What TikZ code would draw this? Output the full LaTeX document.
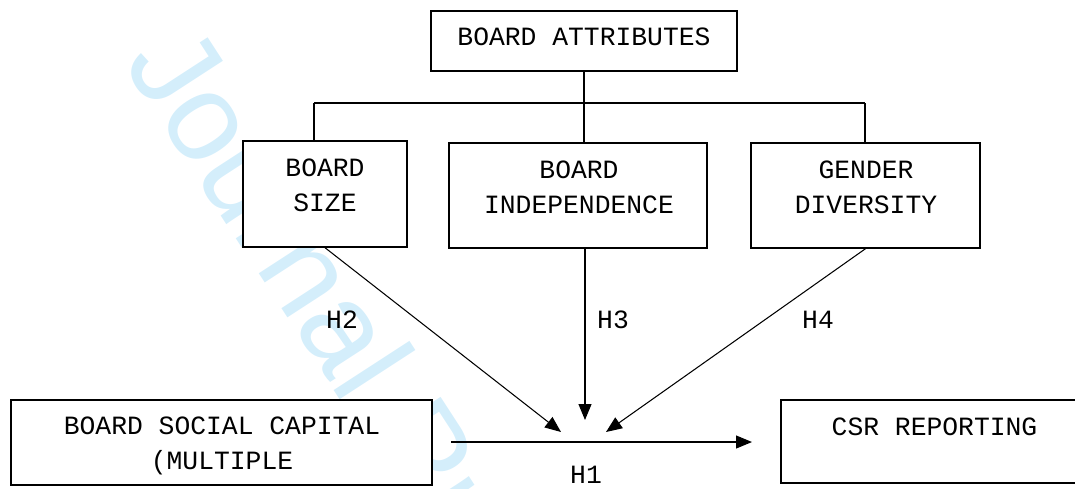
\documentclass[tikz,border=0pt]{standalone}
\usepackage{fontspec}
\setmainfont{Liberation Mono}
\newfontfamily\wmfont{Liberation Sans}
\usetikzlibrary{arrows.meta}
\definecolor{wmcyan}{RGB}{212,238,251}

\begin{document}
\begin{tikzpicture}[x=0.02cm,y=-0.02cm,
  every node/.style={font=\fontsize{15}{19.9}\selectfont},
  box/.style={draw,line width=0.8pt,fill=white,inner sep=0pt},
  boxtext/.style={anchor=north,align=center,inner sep=0pt},
  hlabel/.style={inner sep=0pt},
  link/.style={line width=0.6pt},
  hyp/.style={line width=0.6pt,-{Triangle[length=0.32cm,width=0.26cm]}}]
\useasboundingbox (0,0) rectangle (1075,488);
% watermark
\path (122,63) node (wmark) [anchor=base west,rotate=-57,inner sep=0pt,text=wmcyan,
  font=\wmfont\fontsize{71}{71}\selectfont] {Journal Pre-proof};

% boxes
\path (584,41) node (attr) [box,minimum width=6.12cm,minimum height=1.2cm] {};
\path (325,194) node (bsize) [box,minimum width=3.28cm,minimum height=2.12cm] {};
\path (578,195.5) node (indep) [box,minimum width=5.16cm,minimum height=2.1cm] {};
\path (865.5,195.5) node (gender) [box,minimum width=4.58cm,minimum height=2.1cm] {};
\path (221.5,442.5) node (bsc) [box,minimum width=8.42cm,minimum height=1.7cm] {};
\path (934.5,441.5) node (csr) [box,minimum width=6.14cm,minimum height=1.66cm] {};

% box texts
\path (584,27.3) node (attrtext) [boxtext] {BOARD ATTRIBUTES};
\path (325,158.3) node (bsizetext) [boxtext] {BOARD\\SIZE};
\path (579,160.3) node (indeptext) [boxtext] {BOARD\\INDEPENDENCE};
\path (866,160.3) node (gendertext) [boxtext] {GENDER\\DIVERSITY};
\path (222,416.3) node (bsctext) [boxtext] {BOARD SOCIAL CAPITAL\\(MULTIPLE};
\path (934.5,417.3) node (csrtext) [boxtext] {CSR REPORTING};

% tree lines
\coordinate (hleft) at (314,103);
\coordinate (hright) at (865,103);
\draw [link] (attr.south) -- (attr.south |- indep.north);
\draw [link] (hleft) -- (hright);
\draw [link] (hleft) -- (hleft |- bsize.north);
\draw [link] (hright) -- (hright |- gender.north);

% hypotheses
\coordinate (h2tip) at (561,432);
\coordinate (h3tip) at (585,420);
\coordinate (h4tip) at (606,432);
\coordinate (h1start) at (451,442);
\coordinate (h1tip) at (752,442);
\draw [hyp] (bsize.south) -- (h2tip);
\draw [hyp] (h3tip |- indep.south) -- (h3tip);
\draw [hyp] (gender.south) -- (h4tip);
\draw [hyp] (h1start) -- (h1tip);

\path (342,320) node (h2) [hlabel] {H2};
\path (613,320) node (h3) [hlabel] {H3};
\path (818,320) node (h4) [hlabel] {H4};
\path (586,475) node (h1) [hlabel] {H1};
\end{tikzpicture}
\end{document}
